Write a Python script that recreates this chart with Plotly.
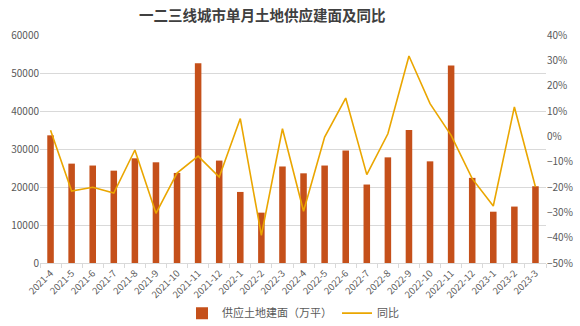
import plotly.graph_objects as go

# Monthly land supply (floor area, 10k m²) and year-over-year change
months = [
    "2021-4", "2021-5", "2021-6", "2021-7", "2021-8", "2021-9", "2021-10",
    "2021-11", "2021-12", "2022-1", "2022-2", "2022-3", "2022-4", "2022-5",
    "2022-6", "2022-7", "2022-8", "2022-9", "2022-10", "2022-11", "2022-12",
    "2023-1", "2023-2", "2023-3",
]
supply_area = [
    33600, 26150, 25650, 24300, 27550, 26500, 23700, 52550, 26950, 18700,
    13250, 25400, 23600, 25650, 29600, 20650, 27800, 35000, 26750, 52000,
    22400, 13500, 14850, 20200,
]
yoy_pct = [
    2.4, -21.6, -20.1, -22.4, -5.4, -30.4, -14.5, -7.8, -16.1, 7.0,
    -39.1, 3.0, -29.6, -0.3, 15.1, -15.1, 1.0, 31.7, 12.9, 0.4,
    -16.7, -27.5, 11.6, -20.0,
]

BAR_COLOR = "#C5501A"
LINE_COLOR = "#EAA600"
TEXT_COLOR = "#595959"
GRID_COLOR = "#D9D9D9"
FONT = "Noto Sans CJK SC"

fig = go.Figure()
fig.add_trace(go.Bar(
    x=months, y=supply_area, name="供应土地建面（万平）",
    marker=dict(color=BAR_COLOR, line=dict(width=0)),
    yaxis="y",
))
fig.add_trace(go.Scatter(
    x=months, y=yoy_pct, name="同比", mode="lines",
    line=dict(color=LINE_COLOR, width=1.6),
    yaxis="y2",
))

fig.update_layout(
    width=580, height=326,
    margin=dict(l=40, r=34, t=35, b=63, autoexpand=False),
    paper_bgcolor="white", plot_bgcolor="white",
    font=dict(family=FONT, color=TEXT_COLOR, size=10),
    title=dict(
        text="<b>一二三线城市单月土地供应建面及同比</b>",
        xref="container", x=0.452, xanchor="center",
        yref="container", y=0.95, yanchor="middle",
        font=dict(size=14.5, color="#404040", family=FONT),
    ),
    bargap=0.69,
    showlegend=True,
    legend=dict(
        orientation="h", x=0.5, xanchor="center", y=-0.22, yanchor="middle",
        font=dict(size=11, color=TEXT_COLOR, family=FONT),
        itemwidth=30, traceorder="normal",
    ),
    xaxis=dict(
        type="category", tickangle=-45, automargin=False,
        tickfont=dict(size=9.5, color=TEXT_COLOR),
        showline=True, linecolor=GRID_COLOR, linewidth=1,
        ticks="outside", tickson="boundaries", ticklen=4, tickcolor=GRID_COLOR,
        showgrid=False,
    ),
    yaxis=dict(
        range=[0, 60000], dtick=10000, tickformat="d", automargin=False,
        showgrid=True, gridcolor=GRID_COLOR, gridwidth=1,
        zeroline=False, ticks="", tickfont=dict(size=10, color=TEXT_COLOR),
    ),
    yaxis2=dict(
        overlaying="y", side="right", automargin=False,
        range=[-50, 40], dtick=10, ticksuffix="%",
        showgrid=False, zeroline=False, ticks="",
        tickfont=dict(size=10, color=TEXT_COLOR),
    ),
)

fig.write_html("out.html")
